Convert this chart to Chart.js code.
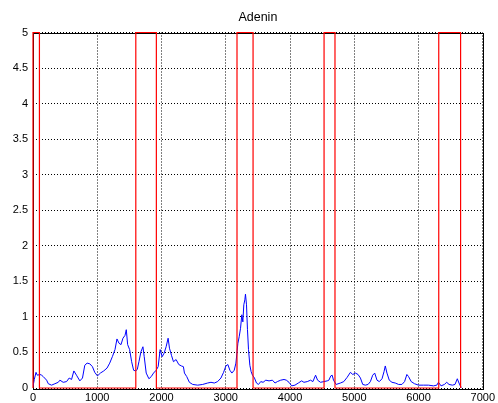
<!DOCTYPE html>
<html>
<head>
<meta charset="utf-8">
<script src="https://cdn.jsdelivr.net/npm/chart.js@4/dist/chart.umd.min.js"></script>
<style>
html,body{margin:0;padding:0;background:#fff;}
#wrap{width:498px;height:403px;position:relative;}
</style>
</head>
<body>
<div id="wrap"><canvas id="c" width="498" height="403"></canvas></div>
<script>
const chartTitle = "Adenin";
const xTickStep = 1000;
const yTickStep = 0.5;
const xMax = 7000;
const yMax = 5;

const signalX = [0,20,47,67,109,134,160,212,238,289,341,393,419,470,522,563,600,636,677,729,770,806,842,884,925,961,1003,1049,1101,1152,1194,1235,1276,1307,1338,1370,1400,1432,1452,1473,1504,1535,1566,1597,1623,1649,1680,1711,1731,1762,1804,1840,1876,1917,1948,1979,2010,2041,2072,2103,2124,2155,2186,2227,2269,2310,2341,2357,2393,2434,2486,2563,2641,2718,2770,2822,2873,2925,2966,3002,3033,3064,3095,3132,3158,3189,3209,3230,3250,3266,3281,3297,3307,3323,3338,3354,3375,3395,3416,3447,3478,3509,3545,3581,3623,3674,3726,3767,3803,3855,3907,3943,3984,4026,4077,4129,4181,4217,4269,4320,4356,4398,4429,4475,4527,4579,4605,4635,4656,4677,4718,4785,4837,4889,4940,4977,5018,5059,5096,5132,5173,5215,5251,5287,5318,5354,5390,5432,5463,5483,5509,5545,5587,5638,5690,5742,5783,5819,5845,5886,5938,6000,6078,6155,6233,6285,6310,6351,6403,6439,6475,6527,6568,6604,6630,6656,6671];
const signalY = [0.02,0.12,0.22,0.18,0.19,0.18,0.16,0.11,0.06,0.04,0.06,0.08,0.11,0.08,0.09,0.14,0.12,0.24,0.18,0.10,0.14,0.32,0.35,0.34,0.30,0.22,0.17,0.21,0.24,0.28,0.35,0.44,0.54,0.69,0.63,0.61,0.70,0.74,0.82,0.61,0.54,0.37,0.25,0.24,0.26,0.37,0.51,0.58,0.44,0.21,0.13,0.16,0.21,0.25,0.30,0.54,0.44,0.49,0.58,0.70,0.56,0.46,0.37,0.40,0.33,0.31,0.30,0.21,0.16,0.08,0.05,0.04,0.05,0.07,0.08,0.07,0.09,0.14,0.22,0.31,0.33,0.25,0.21,0.25,0.35,0.63,0.72,0.84,1.03,0.93,1.17,1.24,1.32,1.17,0.82,0.54,0.32,0.23,0.18,0.14,0.07,0.05,0.09,0.08,0.11,0.10,0.11,0.07,0.09,0.11,0.12,0.11,0.08,0.03,0.04,0.07,0.10,0.08,0.09,0.11,0.09,0.18,0.11,0.08,0.09,0.10,0.11,0.17,0.18,0.11,0.05,0.07,0.09,0.15,0.22,0.19,0.21,0.19,0.14,0.05,0.04,0.05,0.09,0.18,0.21,0.11,0.09,0.13,0.23,0.31,0.21,0.11,0.08,0.07,0.05,0.05,0.09,0.19,0.16,0.09,0.06,0.04,0.04,0.04,0.03,0.04,0.08,0.03,0.05,0.08,0.05,0.04,0.05,0.13,0.07,0.02,0.01];

const regionX = [0,0,100,100,1600,1600,1920,1920,3175,3175,3425,3425,4530,4530,4700,4700,6315,6315,6655,6655];
const regionY = [0,5,5,0,0,5,5,0,0,5,5,0,0,5,5,0,0,5,5,0];

const toPts = (xs, ys) => xs.map((x, i) => ({x: x, y: ys[i]}));

const boxPlugin = {
  id: 'box',
  beforeDatasetsDraw(chart) {
    const a = chart.chartArea, ctx = chart.ctx;
    ctx.save();
    ctx.strokeStyle = '#000';
    ctx.lineWidth = 1;
    ctx.setLineDash([]);
    ctx.strokeRect(Math.round(a.left) + 0.5, Math.round(a.top) + 0.5, Math.round(a.right - a.left), Math.round(a.bottom - a.top));
    ctx.restore();
  }
};

const font = {family: "'Liberation Sans', Arial, sans-serif", size: 11};
const fmt = v => String(Math.round(v * 100) / 100);

new Chart(document.getElementById('c'), {
  type: 'scatter',
  data: {
    datasets: [
      {
        label: 'regions',
        data: toPts(regionX, regionY),
        showLine: true,
        borderColor: '#ff0000',
        borderWidth: 1.2,
        pointRadius: 0,
        tension: 0,
        clip: false,
        order: 0
      },
      {
        label: 'Adenin',
        data: toPts(signalX, signalY),
        showLine: true,
        borderColor: '#0000ff',
        borderWidth: 1,
        pointRadius: 0,
        tension: 0,
        order: 1
      }
    ]
  },
  options: {
    responsive: false,
    animation: false,
    events: [],
    layout: {padding: {left: 0, right: 13, top: 0, bottom: 0}},
    plugins: {
      legend: {display: false},
      tooltip: {enabled: false},
      title: {
        display: true,
        text: chartTitle,
        fullSize: false,
        color: '#000',
        font: {family: font.family, size: 12.5, weight: 'normal', lineHeight: 1},
        padding: {top: 11, bottom: 9}
      }
    },
    scales: {
      x: {
        type: 'linear',
        min: 0,
        max: xMax,
        ticks: {stepSize: xTickStep, color: '#000', font: font, padding: 3, maxRotation: 0, callback: v => fmt(v)},
        grid: {color: '#000', lineWidth: 1, drawTicks: false},
        border: {display: false, dash: [1, 2]},
        afterFit(s) { s.height = 15; }
      },
      y: {
        type: 'linear',
        min: 0,
        max: yMax,
        ticks: {stepSize: yTickStep, color: '#000', font: font, padding: 5, callback: v => fmt(v)},
        grid: {color: '#000', lineWidth: 1, drawTicks: false},
        border: {display: false, dash: [1, 2]},
        afterFit(s) { s.width = 33; }
      }
    }
  },
  plugins: [boxPlugin]
});
</script>
</body>
</html>
